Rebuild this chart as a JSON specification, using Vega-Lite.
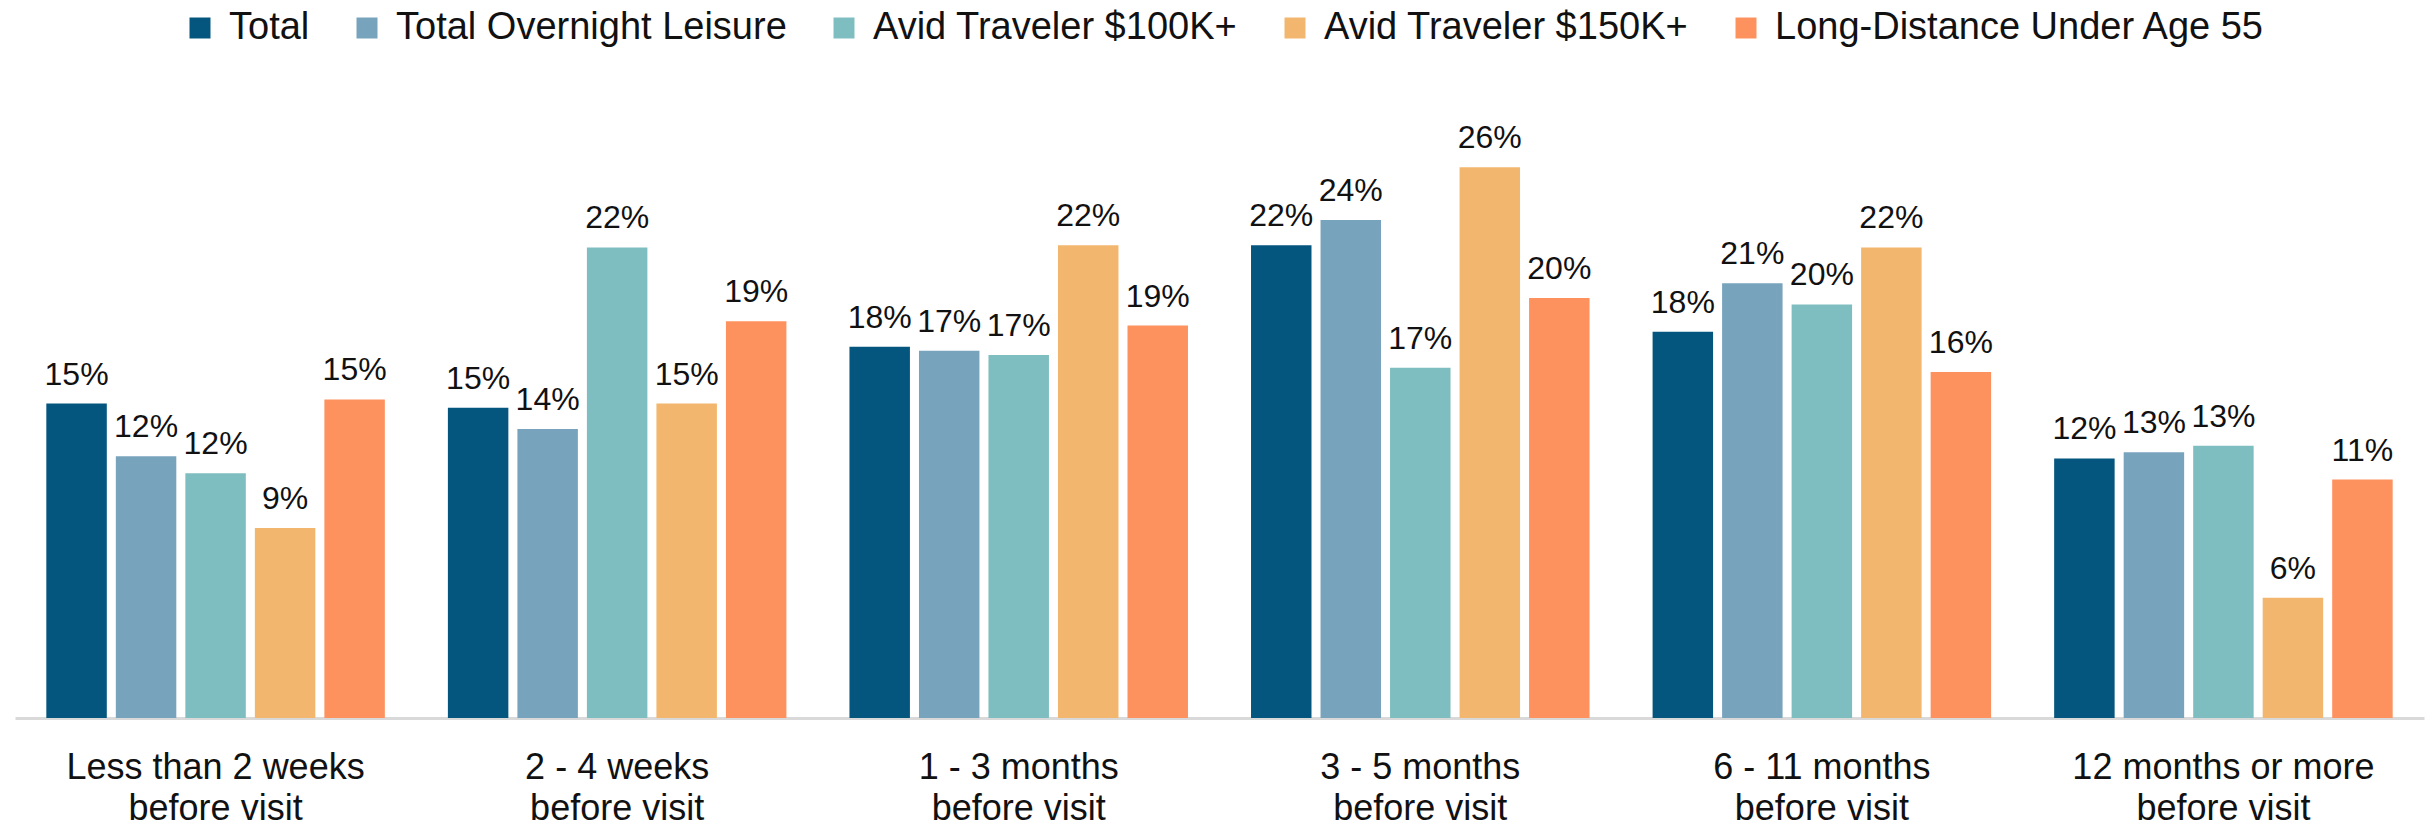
{
  "$schema": "https://vega.github.io/schema/vega-lite/v6.json",
  "width": 2409,
  "height": 633,
  "autosize": {"type": "none"},
  "padding": {"left": 15, "top": 85, "right": 9, "bottom": 110},
  "background": "white",
  "data": {
    "values": [
      {"timing": "Less than 2 weeks before visit", "segment": "Total", "share": 0.149},
      {"timing": "Less than 2 weeks before visit", "segment": "Total Overnight Leisure", "share": 0.124},
      {"timing": "Less than 2 weeks before visit", "segment": "Avid Traveler $100K+", "share": 0.116},
      {"timing": "Less than 2 weeks before visit", "segment": "Avid Traveler $150K+", "share": 0.090},
      {"timing": "Less than 2 weeks before visit", "segment": "Long-Distance Under Age 55", "share": 0.151},
      {"timing": "2 - 4 weeks before visit", "segment": "Total", "share": 0.147},
      {"timing": "2 - 4 weeks before visit", "segment": "Total Overnight Leisure", "share": 0.137},
      {"timing": "2 - 4 weeks before visit", "segment": "Avid Traveler $100K+", "share": 0.223},
      {"timing": "2 - 4 weeks before visit", "segment": "Avid Traveler $150K+", "share": 0.149},
      {"timing": "2 - 4 weeks before visit", "segment": "Long-Distance Under Age 55", "share": 0.188},
      {"timing": "1 - 3 months before visit", "segment": "Total", "share": 0.176},
      {"timing": "1 - 3 months before visit", "segment": "Total Overnight Leisure", "share": 0.174},
      {"timing": "1 - 3 months before visit", "segment": "Avid Traveler $100K+", "share": 0.172},
      {"timing": "1 - 3 months before visit", "segment": "Avid Traveler $150K+", "share": 0.224},
      {"timing": "1 - 3 months before visit", "segment": "Long-Distance Under Age 55", "share": 0.186},
      {"timing": "3 - 5 months before visit", "segment": "Total", "share": 0.224},
      {"timing": "3 - 5 months before visit", "segment": "Total Overnight Leisure", "share": 0.236},
      {"timing": "3 - 5 months before visit", "segment": "Avid Traveler $100K+", "share": 0.166},
      {"timing": "3 - 5 months before visit", "segment": "Avid Traveler $150K+", "share": 0.261},
      {"timing": "3 - 5 months before visit", "segment": "Long-Distance Under Age 55", "share": 0.199},
      {"timing": "6 - 11 months before visit", "segment": "Total", "share": 0.183},
      {"timing": "6 - 11 months before visit", "segment": "Total Overnight Leisure", "share": 0.206},
      {"timing": "6 - 11 months before visit", "segment": "Avid Traveler $100K+", "share": 0.196},
      {"timing": "6 - 11 months before visit", "segment": "Avid Traveler $150K+", "share": 0.223},
      {"timing": "6 - 11 months before visit", "segment": "Long-Distance Under Age 55", "share": 0.164},
      {"timing": "12 months or more before visit", "segment": "Total", "share": 0.123},
      {"timing": "12 months or more before visit", "segment": "Total Overnight Leisure", "share": 0.126},
      {"timing": "12 months or more before visit", "segment": "Avid Traveler $100K+", "share": 0.129},
      {"timing": "12 months or more before visit", "segment": "Avid Traveler $150K+", "share": 0.057},
      {"timing": "12 months or more before visit", "segment": "Long-Distance Under Age 55", "share": 0.113}
    ]
  },
  "encoding": {
    "x": {
      "field": "timing",
      "type": "nominal",
      "sort": ["Less than 2 weeks before visit", "2 - 4 weeks before visit", "1 - 3 months before visit", "3 - 5 months before visit", "6 - 11 months before visit", "12 months or more before visit"],
      "scale": {"paddingInner": 0.157, "paddingOuter": 0.078},
      "axis": {
        "title": null,
        "labelAngle": 0,
        "labelExpr": "[replace(datum.label, ' before visit', ''), 'before visit']",
        "labelFont": "Liberation Sans",
        "labelFontSize": 36,
        "labelColor": "#111111",
        "labelLineHeight": 41,
        "labelPadding": 60,
        "labelBaseline": "alphabetic",
        "labelLimit": 1000,
        "ticks": false,
        "domain": true,
        "domainColor": "#d9d9d9",
        "domainWidth": 3,
        "grid": false
      }
    },
    "xOffset": {
      "field": "segment",
      "type": "nominal",
      "sort": ["Total", "Total Overnight Leisure", "Avid Traveler $100K+", "Avid Traveler $150K+", "Long-Distance Under Age 55"],
      "scale": {"paddingInner": 0.13, "paddingOuter": 0}
    },
    "y": {
      "field": "share",
      "type": "quantitative",
      "scale": {"domain": [0, 0.3], "nice": false},
      "axis": null
    }
  },
  "layer": [
    {
      "mark": {"type": "bar"},
      "encoding": {
        "color": {
          "field": "segment",
          "type": "nominal",
          "scale": {
            "domain": ["Total", "Total Overnight Leisure", "Avid Traveler $100K+", "Avid Traveler $150K+", "Long-Distance Under Age 55"],
            "range": ["#04567f", "#78a3bc", "#7fbec0", "#f3b66e", "#fe925f"]
          },
          "legend": {
            "orient": "none",
            "legendX": 166,
            "legendY": -76,
            "direction": "horizontal",
            "title": null,
            "symbolType": "square",
            "symbolSize": 441,
            "symbolStrokeWidth": 0,
            "symbolOpacity": 1,
            "labelFont": "Liberation Sans",
            "labelFontSize": 38,
            "labelColor": "#111111",
            "labelOffset": 10,
            "columnPadding": 38,
            "labelLimit": 1000
          }
        }
      }
    },
    {
      "mark": {
        "type": "text",
        "baseline": "alphabetic",
        "dy": -19,
        "font": "Liberation Sans",
        "fontSize": 32,
        "color": "#111111"
      },
      "encoding": {
        "text": {"field": "share", "type": "quantitative", "format": ".0%"}
      }
    }
  ],
  "config": {"view": {"stroke": null}}
}
